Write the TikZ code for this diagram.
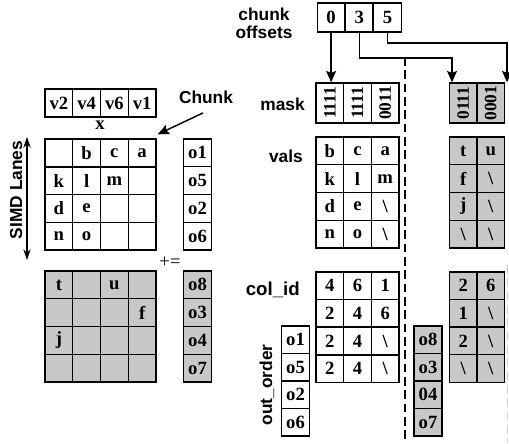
\documentclass[tikz,border=0pt]{standalone}
\usepackage{fontspec}
\setmainfont{Liberation Serif}
\newfontfamily\lblfont{Liberation Sans}
\usetikzlibrary{arrows.meta}
\definecolor{cellgray}{RGB}{200,200,200}
\begin{document}
\begin{tikzpicture}[x=0.75pt,y=-0.75pt,
  cell/.style={draw, line width=1.1pt, minimum width=20.8pt, minimum height=20.8pt,
    inner sep=0pt, font=\bfseries\fontsize{14}{14}\selectfont},
  gcell/.style={cell, fill=cellgray},
  maskcell/.style={cell, minimum height=30pt, font=\bfseries\fontsize{13}{13}\selectfont},
  lbl/.style={font=\lblfont\bfseries\fontsize{13}{14}\selectfont, inner sep=0pt},
  arr/.style={line width=1.1pt, -{Stealth[length=8.5pt,width=7.5pt,inset=1.5pt]}},
  sepline/.style={line width=2.2pt, dash pattern=on 6.5pt off 3.5pt}]
\useasboundingbox (0,0) rectangle (509,443);

% ---------- left: dense chunk ----------
\foreach \t [count=\c] in {v2,v4,v6,v1}
  \node[cell] (x-\c) at ({45+27.75*(\c-0.5)},103) {\t};
\node[font=\bfseries\fontsize{14}{14}\selectfont, inner sep=0pt] (xlbl) at (100,125) {x};

\foreach \t [count=\c] in {{},b,c,a}
  \node[cell] (A-1-\c) at ({45+27.75*(\c-0.5)},152.9) {\t};
\foreach \t [count=\c] in {k,l,m,{}}
  \node[cell] (A-2-\c) at ({45+27.75*(\c-0.5)},180.6) {\t};
\foreach \t [count=\c] in {d,e,{},{}}
  \node[cell] (A-3-\c) at ({45+27.75*(\c-0.5)},208.4) {\t};
\foreach \t [count=\c] in {n,o,{},{}}
  \node[cell] (A-4-\c) at ({45+27.75*(\c-0.5)},236.1) {\t};

\foreach \t [count=\r] in {o1,o5,o2,o6}
  \node[cell] (oA-\r) at (197.5,{139+27.75*(\r-0.5)}) {\t};

\node[font=\fontsize{14}{14}\selectfont, inner sep=0pt] (pluseq) at (170,262) {+=};

\foreach \t [count=\c] in {t,{},u,{}}
  \node[gcell] (B-1-\c) at ({45+27.75*(\c-0.5)},284.9) {\t};
\foreach \t [count=\c] in {{},{},{},f}
  \node[gcell] (B-2-\c) at ({45+27.75*(\c-0.5)},312.6) {\t};
\foreach \t [count=\c] in {j,{},{},{}}
  \node[gcell] (B-3-\c) at ({45+27.75*(\c-0.5)},340.4) {\t};
\foreach \t [count=\c] in {{},{},{},{}}
  \node[gcell] (B-4-\c) at ({45+27.75*(\c-0.5)},368.1) {\t};

\foreach \t [count=\r] in {o8,o3,o4,o7}
  \node[gcell] (oB-\r) at (197.5,{271+27.75*(\r-0.5)}) {\t};

% lane arrow and labels
\coordinate (laneTop) at (27,137);
\coordinate (laneBot) at (27,260);
\draw[line width=0.8pt, {Stealth[length=8pt,width=5.5pt]}-{Stealth[length=8pt,width=5.5pt]}] (laneTop) -- (laneBot);
\node[lbl, rotate=90, anchor=base] (simd) at (22,190) {SIMD Lanes};

\node[lbl, anchor=base] (chunk) at (206,103.5) {Chunk};
\draw[arr] ([shift={(-3,9)}]chunk.south) -- ([shift={(1,-4)}]A-1-4.north east);

% ---------- right: compressed format ----------
\node[lbl, align=center, anchor=base] (offlbl) at (264,38) {chunk\\[-1pt]offsets};

\foreach \t [count=\c] in {0,3,5}
  \node[cell, minimum height=21.5pt] (off-\c) at ({317+28.2*(\c-0.5)},17.5) {\t};

\node[lbl, anchor=base east] (masklbl) at (305,110) {mask};
\foreach \t [count=\c] in {1111,1111,0011}
  \node[maskcell] (mk-\c) at ({316+27.67*(\c-0.5)},103) {\rotatebox{90}{\t}};
\foreach \t [count=\c] in {0111,0001}
  \node[maskcell, fill=cellgray] (mg-\c) at ({449.5+27.5*(\c-0.5)},103) {\rotatebox{90}{\t}};

\node[lbl, anchor=base east] (valslbl) at (303,162) {vals};
\foreach \a/\b/\cc [count=\r] in {b/c/a,k/l/m,d/e/\textbackslash,n/o/\textbackslash}{
  \node[cell] (v-\r-1) at (329.8,{137+27.75*(\r-0.5)}) {\a};
  \node[cell] (v-\r-2) at (357.5,{137+27.75*(\r-0.5)}) {\b};
  \node[cell] (v-\r-3) at (385.2,{137+27.75*(\r-0.5)}) {\cc};
}
\foreach \a/\b [count=\r] in {t/u,f/\textbackslash,j/\textbackslash,\textbackslash/\textbackslash}{
  \node[gcell] (vg-\r-1) at (463.25,{137+27.75*(\r-0.5)}) {\a};
  \node[gcell] (vg-\r-2) at (490.75,{137+27.75*(\r-0.5)}) {\b};
}

\node[lbl, anchor=base east, font=\lblfont\bfseries\fontsize{14}{14}\selectfont] (collbl) at (300,295) {col\_id};
\foreach \a/\b/\cc [count=\r] in {4/6/1,2/4/6,2/4/\textbackslash,2/4/\textbackslash}{
  \node[cell] (c-\r-1) at (329.8,{272+27.6*(\r-0.5)}) {\a};
  \node[cell] (c-\r-2) at (357.5,{272+27.6*(\r-0.5)}) {\b};
  \node[cell] (c-\r-3) at (385.2,{272+27.6*(\r-0.5)}) {\cc};
}
\foreach \a/\b [count=\r] in {2/6,1/\textbackslash,2/\textbackslash,\textbackslash/\textbackslash}{
  \node[gcell] (cg-\r-1) at (463.25,{272+27.6*(\r-0.5)}) {\a};
  \node[gcell] (cg-\r-2) at (490.75,{272+27.6*(\r-0.5)}) {\b};
}

\node[lbl, rotate=90, anchor=base] (ordlbl) at (272,385) {out\_order};
\foreach \t [count=\r] in {o1,o5,o2,o6}
  \node[cell] (oo-\r) at (295.5,{326+27.5*(\r-0.5)}) {\t};
\foreach \t [count=\r] in {o8,o3,04,o7}
  \node[gcell] (og-\r) at (428,{326+27.5*(\r-0.5)}) {\t};

% offset pointers
\coordinate (k3) at (452,58);
\coordinate (k5) at (507,43);
\draw[arr] (off-1.south) -- (off-1.south |- mk-1.north);
\draw[arr] (off-2.south) -- (off-2.south |- k3) -- (k3) -- (k3 |- mg-1.north);
\draw[arr] (off-3.south) -- (off-3.south |- k5) -- (k5) -- (k5 |- mg-2.north);

% chunk separators
\coordinate (sepTop) at (405,57);
\coordinate (sepBot) at (405,443);
\draw[sepline] (sepTop) -- (sepBot);
\coordinate (sep2Top) at (507.5,265);
\coordinate (sep2Bot) at (507.5,443);
\draw[line width=1pt, draw=black!18, dash pattern=on 6.5pt off 3.5pt] (sep2Top) -- (sep2Bot);
\end{tikzpicture}
\end{document}
